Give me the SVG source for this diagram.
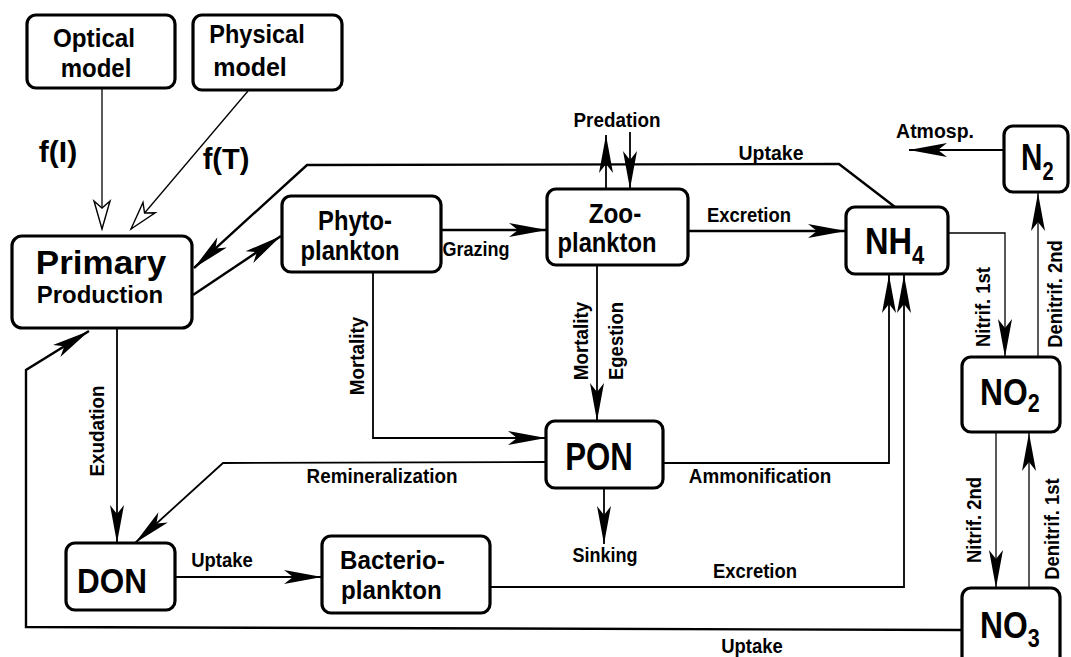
<svg xmlns="http://www.w3.org/2000/svg" width="1071" height="657" viewBox="0 0 1071 657">
<style>
text{font-family:"Liberation Sans",Arial,Helvetica,sans-serif;font-weight:bold;fill:#000}
.box{fill:#fff;stroke:#000;stroke-width:3.2}
.lbl{font-size:20.5px;text-anchor:middle}
.mid{text-anchor:middle}
.c{fill:none;stroke:#000;stroke-linejoin:miter}
.w1{stroke-width:1.3}
.w2{stroke-width:1.8}
.w3{stroke-width:2.4}
.arr{marker-end:url(#ah)}
.hol{marker-end:url(#ho)}
</style>
<defs>
<marker id="ah" markerUnits="userSpaceOnUse" markerWidth="44" markerHeight="20" viewBox="-42 -10 44 20" refX="0" refY="0" orient="auto">
<path d="M0,0 L-38,-7 L-29,0 L-38,7 Z" fill="#000"/>
</marker>
<marker id="ho" markerUnits="userSpaceOnUse" markerWidth="34" markerHeight="22" viewBox="-31 -11 34 22" refX="0" refY="0" orient="auto">
<path d="M0,0 L-28,-8 L-21,0 L-28,8 Z" fill="#fff" stroke="#000" stroke-width="1.4" stroke-linejoin="miter"/>
</marker>
</defs>
<rect x="0" y="0" width="1071" height="657" fill="#fff"/>

<g id="connectors">
<line class="c w1 hol" x1="102" y1="88" x2="102" y2="229"/>
<line class="c w1 hol" x1="248" y1="91" x2="131" y2="229"/>
<polyline class="c w3 arr" points="895,207 839,164 307,165 194,268"/>
<line class="c w3 arr" x1="193" y1="295" x2="281" y2="236"/>
<line class="c w3 arr" x1="441" y1="230" x2="547" y2="230"/>
<line class="c w2 arr" x1="606" y1="189" x2="606" y2="135"/>
<line class="c w2 arr" x1="630" y1="132" x2="630" y2="189"/>
<line class="c w3 arr" x1="688" y1="231" x2="846" y2="231"/>
<line class="c w2 arr" x1="1004" y1="150" x2="909" y2="150"/>
<polyline class="c w1 arr" points="948,233 1005,233 1005,357"/>
<line class="c w1 arr" x1="1038" y1="357" x2="1038" y2="193"/>
<line class="c w1 arr" x1="996" y1="432" x2="996" y2="588"/>
<line class="c w1 arr" x1="1029" y1="588" x2="1029" y2="433"/>
<line class="c w2 arr" x1="597" y1="265" x2="597" y2="421"/>
<polyline class="c w2 arr" points="373,272 373,438 546,438"/>
<polyline class="c w2 arr" points="546,462 223,463 135,543"/>
<polyline class="c w2 arr" points="663,463 889,463 889,275"/>
<polyline class="c w2 arr" points="490,587 904,587 904,275"/>
<line class="c w2 arr" x1="604" y1="488" x2="604" y2="544"/>
<line class="c w2 arr" x1="117" y1="328" x2="117" y2="543"/>
<line class="c w2 arr" x1="175" y1="577" x2="322" y2="577"/>
<polyline class="c w3 arr" points="962,630 26,627 26,370 89,331"/>

<text class="mid" transform="translate(58,162)" style="font-size:30px">f(I)</text>
<text class="mid" transform="translate(226,169)" style="font-size:29px">f(T)</text>
<text class="lbl" transform="translate(771,160) scale(0.95,1)">Uptake</text>
<text class="lbl" transform="translate(617,127) scale(0.92,1)">Predation</text>
<text class="lbl" transform="translate(476,256) scale(0.88,1)">Grazing</text>
<text class="lbl" transform="translate(749,222) scale(0.9,1)">Excretion</text>
<text class="lbl" transform="translate(935,138) scale(0.95,1)">Atmosp.</text>
<text class="lbl" transform="translate(382,483) scale(0.92,1)">Remineralization</text>
<text class="lbl" transform="translate(760,483) scale(0.92,1)">Ammonification</text>
<text class="lbl" transform="translate(605,562) scale(0.88,1)">Sinking</text>
<text class="lbl" transform="translate(755,578) scale(0.9,1)">Excretion</text>
<text class="lbl" transform="translate(752,653) scale(0.9,1)">Uptake</text>
<text class="lbl" transform="translate(222,567) scale(0.9,1)">Uptake</text>
<text class="lbl" transform="translate(104,431) rotate(-90) scale(0.92,1)">Exudation</text>
<text class="lbl" transform="translate(364,356) rotate(-90) scale(0.92,1)">Mortality</text>
<text class="lbl" transform="translate(588,341) rotate(-90) scale(0.92,1)">Mortality</text>
<text class="lbl" transform="translate(623,341) rotate(-90) scale(0.9,1)">Egestion</text>
<text class="lbl" transform="translate(990,307) rotate(-90) scale(0.9,1)">Nitrif. 1st</text>
<text class="lbl" transform="translate(1062,294) rotate(-90) scale(0.9,1)">Denitrif. 2nd</text>
<text class="lbl" transform="translate(981,520) rotate(-90) scale(0.9,1)">Nitrif. 2nd</text>
<text class="lbl" transform="translate(1059,529) rotate(-90) scale(0.9,1)">Denitrif. 1st</text>
</g>

<g id="optical-model">
<rect class="box" x="27" y="15" width="148" height="73" rx="9"/>
<text class="mid" transform="translate(94,47) scale(0.97,1)" style="font-size:25px">Optical</text>
<text class="mid" transform="translate(96,77) scale(0.96,1)" style="font-size:25px">model</text>
</g>
<g id="physical-model">
<rect class="box" x="193" y="15" width="149" height="75" rx="9"/>
<text class="mid" transform="translate(257,43) scale(0.94,1)" style="font-size:25px">Physical</text>
<text class="mid" transform="translate(250,76) scale(1,1)" style="font-size:25px">model</text>
</g>
<g id="primary-production">
<rect class="box" x="12" y="236" width="180" height="92" rx="10"/>
<text class="mid" transform="translate(101,274) scale(1.03,1)" style="font-size:34px">Primary</text>
<text class="mid" transform="translate(100,303) scale(1.02,1)" style="font-size:23.5px">Production</text>
</g>
<g id="phytoplankton">
<rect class="box" x="282" y="196" width="159" height="76" rx="9"/>
<text class="mid" transform="translate(355,230) scale(0.88,1)" style="font-size:27px">Phyto-</text>
<text class="mid" transform="translate(350,260) scale(0.88,1)" style="font-size:27px">plankton</text>
</g>
<g id="zooplankton">
<rect class="box" x="547" y="189" width="141" height="76" rx="9"/>
<text class="mid" transform="translate(615,223) scale(0.9,1)" style="font-size:27px">Zoo-</text>
<text class="mid" transform="translate(607,252) scale(0.88,1)" style="font-size:27px">plankton</text>
</g>
<g id="nh4">
<rect class="box" x="846" y="207" width="102" height="67" rx="9"/>
<text transform="translate(865,254) scale(0.88,1)" style="font-size:37px">NH<tspan dy="10" style="font-size:25px">4</tspan></text>
</g>
<g id="n2">
<rect class="box" x="1004" y="126" width="64" height="66" rx="9"/>
<text transform="translate(1021,170) scale(0.8,1)" style="font-size:37px">N<tspan dy="10" style="font-size:25px">2</tspan></text>
</g>
<g id="no2">
<rect class="box" x="962" y="357" width="98" height="75" rx="9"/>
<text transform="translate(980,405) scale(0.86,1)" style="font-size:37px">NO<tspan dy="7" style="font-size:25px">2</tspan></text>
</g>
<g id="no3">
<rect class="box" x="962" y="588" width="98" height="85" rx="9"/>
<text transform="translate(980,638) scale(0.86,1)" style="font-size:37px">NO<tspan dy="9" style="font-size:25px">3</tspan></text>
</g>
<g id="pon">
<rect class="box" x="546" y="421" width="117" height="67" rx="9"/>
<text class="mid" transform="translate(599,470) scale(0.8,1)" style="font-size:39px">PON</text>
</g>
<g id="don">
<rect class="box" x="66" y="543" width="109" height="67" rx="9"/>
<text class="mid" transform="translate(112,593) scale(0.875,1)" style="font-size:36px">DON</text>
</g>
<g id="bacterioplankton">
<rect class="box" x="322" y="536" width="168" height="77" rx="9"/>
<text transform="translate(340,569) scale(0.93,1)" style="font-size:26px">Bacterio-</text>
<text transform="translate(341,599) scale(0.93,1)" style="font-size:26px">plankton</text>
</g>
</svg>
